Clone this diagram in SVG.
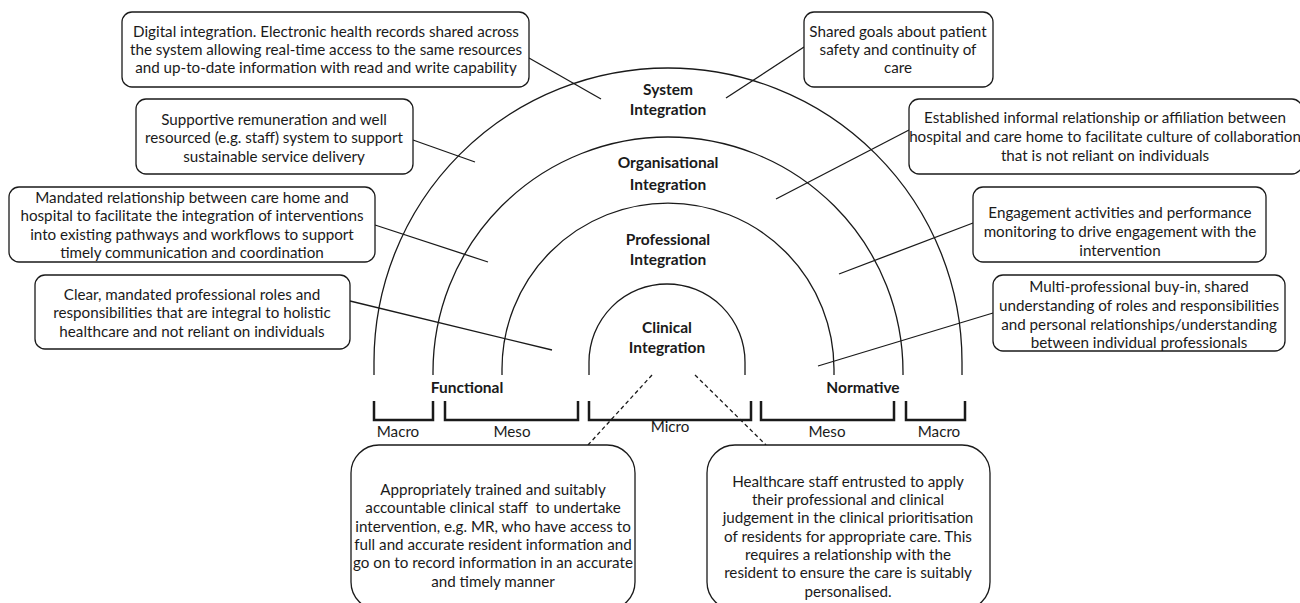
<svg xmlns="http://www.w3.org/2000/svg" width="1300" height="603" viewBox="0 0 1300 603">
<style>
.box{fill:#fff;stroke:#1a1a1a;stroke-width:1.3}
.t{font-family:Lato,"Liberation Sans",sans-serif;font-size:15.2px;fill:#1a1a1a;text-anchor:middle;white-space:pre}
.b{font-family:Lato,"Liberation Sans",sans-serif;font-size:15.5px;font-weight:bold;fill:#1a1a1a;text-anchor:middle}
.arc{fill:none;stroke:#1a1a1a;stroke-width:1.3}
.ln{fill:none;stroke:#1a1a1a;stroke-width:1.3}
.dash{fill:none;stroke:#1a1a1a;stroke-width:1.3;stroke-dasharray:4 3}
.br{fill:none;stroke:#1a1a1a;stroke-width:2.5}
</style>
<rect width="1300" height="603" fill="#fff"/>
<g id="arcs">
<path class="arc" d="M374,375 V362 A294,294 0 0 1 962,362 V375"/>
<path class="arc" d="M433,375 V372 A235,235 0 0 1 903,372 V375"/>
<path class="arc" d="M502,375 V369 A166,166 0 0 1 834,369 V375"/>
<path class="arc" d="M589,375 V362 A78,78 0 0 1 745,362 V375"/>
</g>
<g id="connectors">
<line class="ln" x1="529" y1="58" x2="601" y2="99"/>
<line class="ln" x1="413" y1="140" x2="475" y2="162"/>
<line class="ln" x1="375" y1="225" x2="488" y2="262"/>
<line class="ln" x1="350" y1="301" x2="552" y2="350"/>
<line class="ln" x1="804" y1="47" x2="726" y2="98"/>
<line class="ln" x1="909" y1="130" x2="776" y2="199"/>
<line class="ln" x1="973" y1="223" x2="839" y2="274"/>
<line class="ln" x1="993" y1="313" x2="818" y2="366"/>
<line class="dash" x1="652" y1="375" x2="588" y2="445"/>
<line class="dash" x1="695" y1="375" x2="766" y2="445"/>
</g>
<g id="ring-labels">
<text class="b" x="668" y="95">System</text>
<text class="b" x="668" y="115">Integration</text>
<text class="b" x="668" y="168">Organisational</text>
<text class="b" x="668" y="190">Integration</text>
<text class="b" x="668" y="245">Professional</text>
<text class="b" x="668" y="265">Integration</text>
<text class="b" x="667" y="333">Clinical</text>
<text class="b" x="667" y="353">Integration</text>
<text class="b" x="467" y="393">Functional</text>
<text class="b" x="863" y="393">Normative</text>
</g>
<g id="brackets">
<path class="br" d="M374,401 V420 H433 V401"/>
<path class="br" d="M445,401 V420 H578 V401"/>
<path class="br" d="M589,401 V420 H751 V401"/>
<path class="br" d="M761,401 V420 H894 V401"/>
<path class="br" d="M906,401 V420 H965 V401"/>
<text class="t" x="398" y="437">Macro</text>
<text class="t" x="512" y="437">Meso</text>
<text class="t" x="670" y="432">Micro</text>
<text class="t" x="827" y="437">Meso</text>
<text class="t" x="939" y="437">Macro</text>
</g>
<g id="box1">
<rect class="box" x="122" y="12" width="407" height="75" rx="10"/>
<text class="t" x="326" y="37">Digital integration. Electronic health records shared across</text>
<text class="t" x="326" y="55">the system allowing real-time access to the same resources</text>
<text class="t" x="326" y="73">and up-to-date information with read and write capability</text>
</g>
<g id="box2">
<rect class="box" x="136" y="99" width="277" height="75" rx="10"/>
<text class="t" x="274" y="125">Supportive remuneration and well</text>
<text class="t" x="274" y="143">resourced (e.g. staff) system to support</text>
<text class="t" x="274" y="162">sustainable service delivery</text>
</g>
<g id="box3">
<rect class="box" x="9" y="187" width="366" height="75" rx="10"/>
<text class="t" x="192" y="203">Mandated relationship between care home and</text>
<text class="t" x="192" y="221">hospital to facilitate the integration of interventions</text>
<text class="t" x="192" y="240">into existing pathways and workflows to support</text>
<text class="t" x="192" y="258">timely communication and coordination</text>
</g>
<g id="box4">
<rect class="box" x="35" y="275" width="315" height="74" rx="10"/>
<text class="t" x="192" y="300">Clear, mandated professional roles and</text>
<text class="t" x="192" y="318">responsibilities that are integral to holistic</text>
<text class="t" x="192" y="337">healthcare and not reliant on individuals</text>
</g>
<g id="box5">
<rect class="box" x="804" y="12" width="189" height="75" rx="10"/>
<text class="t" x="898" y="37">Shared goals about patient</text>
<text class="t" x="898" y="55">safety and continuity of</text>
<text class="t" x="898" y="73">care</text>
</g>
<g id="box6">
<rect class="box" x="909" y="99" width="393" height="75" rx="10"/>
<text class="t" x="1105" y="123">Established informal relationship or affiliation between</text>
<text class="t" x="1105" y="142">hospital and care home to facilitate culture of collaboration</text>
<text class="t" x="1105" y="161">that is not reliant on individuals</text>
</g>
<g id="box7">
<rect class="box" x="973" y="187" width="293" height="75" rx="10"/>
<text class="t" x="1120" y="218">Engagement activities and performance</text>
<text class="t" x="1120" y="237">monitoring to drive engagement with the</text>
<text class="t" x="1120" y="256">intervention</text>
</g>
<g id="box8">
<rect class="box" x="993" y="275" width="292" height="76" rx="10"/>
<text class="t" x="1139" y="292">Multi-professional buy-in, shared</text>
<text class="t" x="1139" y="311">understanding of roles and responsibilities</text>
<text class="t" x="1139" y="330">and personal relationships/understanding</text>
<text class="t" x="1139" y="348">between individual professionals</text>
</g>
<g id="box9">
<rect class="box" x="351" y="445" width="284" height="165" rx="28"/>
<text class="t" x="493" y="495">Appropriately trained and suitably</text>
<text class="t" x="493" y="513">accountable clinical staff  to undertake</text>
<text class="t" x="493" y="532">intervention, e.g. MR, who have access to</text>
<text class="t" x="493" y="550">full and accurate resident information and</text>
<text class="t" x="493" y="568">go on to record information in an accurate</text>
<text class="t" x="493" y="587">and timely manner</text>
</g>
<g id="box10">
<rect class="box" x="707" y="445" width="283" height="165" rx="28"/>
<text class="t" x="848" y="487">Healthcare staff entrusted to apply</text>
<text class="t" x="848" y="505">their professional and clinical</text>
<text class="t" x="848" y="523">judgement in the clinical prioritisation</text>
<text class="t" x="848" y="542">of residents for appropriate care. This</text>
<text class="t" x="848" y="560">requires a relationship with the</text>
<text class="t" x="848" y="578">resident to ensure the care is suitably</text>
<text class="t" x="848" y="597">personalised.</text>
</g>
</svg>
